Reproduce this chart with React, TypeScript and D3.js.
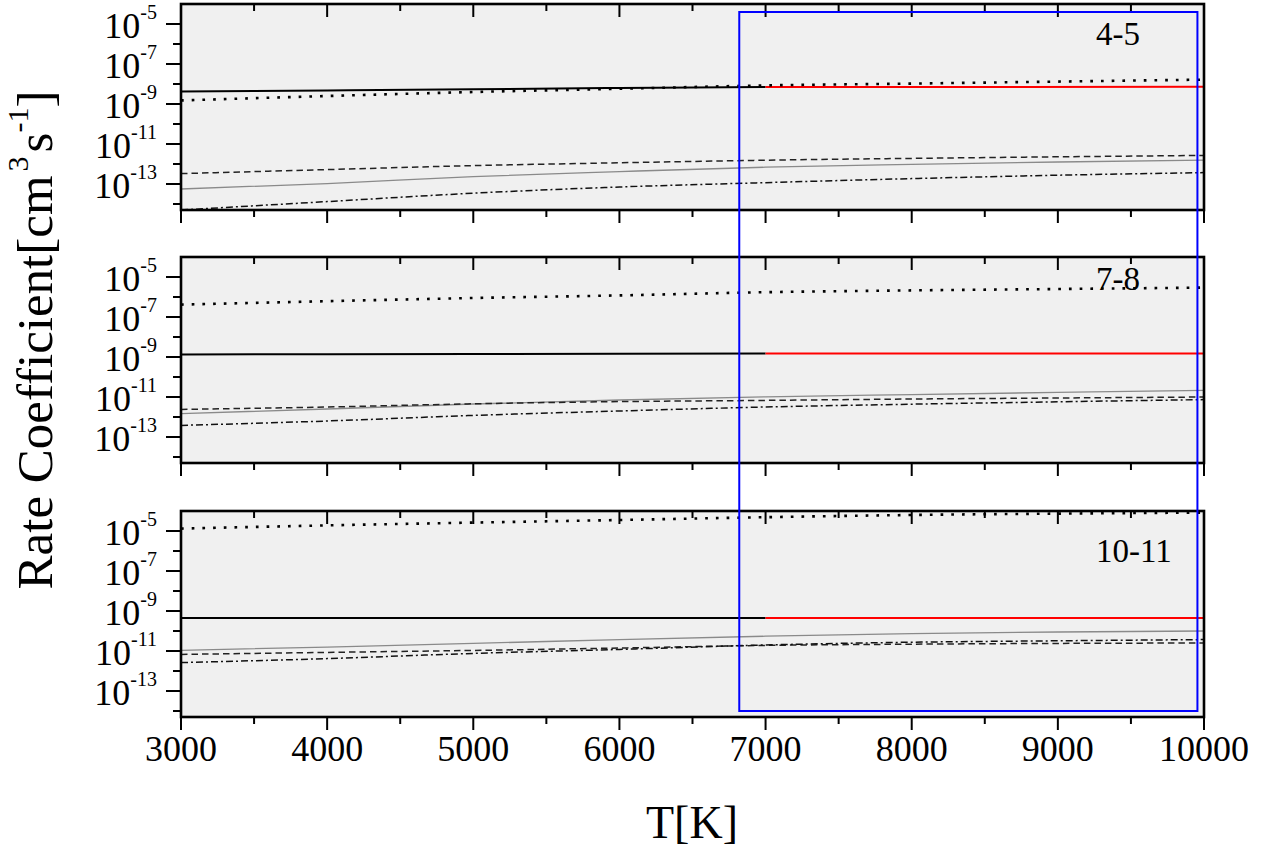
import * as d3 from "d3";

// temperatures (K) used by all curves
const temps = [3000, 4000, 5000, 6000, 7000, 8000, 9000, 10000];
const lowTemps = [3000, 4000, 5000, 6000, 7000];
const highTemps = [7000, 10000];

// panel names
const panelNames = ["4-5", "7-8", "10-11"];

// rate coefficients [cm^3 s^-1]
const dotted45 = [1.51e-9, 2.51e-9, 3.98e-9, 5.75e-9, 8.51e-9, 1.05e-8, 1.32e-8, 1.66e-8];
const solid45 = [4.22e-9, 4.79e-9, 5.43e-9, 6.31e-9, 7.08e-9];
const red45 = [7.08e-9, 7.2e-9];
const dashed45 = [3.31e-13, 5.25e-13, 8.32e-13, 1.15e-12, 1.55e-12, 1.91e-12, 2.29e-12, 2.69e-12];
const gray45 = [5.62e-14, 1.05e-13, 2.34e-13, 4.17e-13, 6.92e-13, 9.55e-13, 1.26e-12, 1.58e-12];
const dashDot45 = [5.0e-15, 1.32e-14, 3.47e-14, 7.08e-14, 1.17e-13, 1.86e-13, 2.75e-13, 3.72e-13];

const dotted78 = [4.17e-7, 6.17e-7, 8.91e-7, 1.2e-6, 1.74e-6, 2.14e-6, 2.51e-6, 2.95e-6];
const solid78 = [1.35e-9, 1.38e-9, 1.42e-9, 1.45e-9, 1.48e-9];
const red78 = [1.48e-9, 1.5e-9];
const dashed78 = [2.4e-12, 3.16e-12, 4.57e-12, 5.89e-12, 6.76e-12, 7.94e-12, 8.91e-12, 1.0e-11];
const gray78 = [1.48e-12, 2.51e-12, 4.47e-12, 7.08e-12, 1.02e-11, 1.32e-11, 1.7e-11, 2.14e-11];
const dashDot78 = [3.8e-13, 6.31e-13, 1.2e-12, 2.0e-12, 3.16e-12, 4.37e-12, 5.75e-12, 7.41e-12];

const dotted1011 = [1.32e-5, 1.91e-5, 2.63e-5, 3.55e-5, 4.9e-5, 6.31e-5, 7.41e-5, 8.32e-5];
const solid1011 = [4.47e-10, 4.47e-10, 4.47e-10, 4.47e-10, 4.47e-10];
const red1011 = [4.47e-10, 4.47e-10];
const dashed1011 = [6.76e-12, 8.51e-12, 1.07e-11, 1.41e-11, 1.91e-11, 2.19e-11, 2.4e-11, 2.51e-11];
const gray1011 = [1.07e-11, 1.58e-11, 2.4e-11, 3.72e-11, 5.5e-11, 7.41e-11, 8.91e-11, 1.0e-10];
const dashDot1011 = [2.63e-12, 4.17e-12, 7.59e-12, 1.2e-11, 2.0e-11, 2.75e-11, 3.24e-11, 3.72e-11];

// axis ticks
const xMajor = [3000, 4000, 5000, 6000, 7000, 8000, 9000, 10000];
const xMinor = [3500, 4500, 5500, 6500, 7500, 8500, 9500];
const yMajorExp = [-5, -7, -9, -11, -13];
const yMinorExp = [-6, -8, -10, -12, -14];

// highlighted temperature window (blue box)
const boxRange = [6820, 9955];

const panels = [
  { name: panelNames[0], dotted: dotted45, solid: solid45, red: red45, dashed: dashed45, gray: gray45, dashDot: dashDot45 },
  { name: panelNames[1], dotted: dotted78, solid: solid78, red: red78, dashed: dashed78, gray: gray78, dashDot: dashDot78 },
  { name: panelNames[2], dotted: dotted1011, solid: solid1011, red: red1011, dashed: dashed1011, gray: gray1011, dashDot: dashDot1011 },
];

const W = 1264;
const H = 854;
const left = 181;
const right = 1204;
const panelTops = [4, 257, 511];
const panelH = 206;
const labelDy = [41, 33, 51];
const font = "'Liberation Serif', 'Times New Roman', serif";

export default function App() {
  const x = d3.scaleLinear().domain([3000, 10000]).range([left, right]);

  return (
    <svg
      width={W}
      height={H}
      style={{ position: "absolute", left: 0, top: 0, background: "#fff" }}
      fontFamily={font}
    >
      <defs>
        {panelTops.map((t, i) => (
          <clipPath id={`clip${i}`} key={i}>
            <rect x={left} y={t} width={right - left} height={panelH} />
          </clipPath>
        ))}
      </defs>
      {panels.map((p, i) => {
        const top = panelTops[i];
        const bottom = top + panelH;
        const y = d3
          .scaleLog()
          .domain([Math.pow(10, -14.3), 1e-4])
          .range([bottom, top]);
        const line = (ts: number[]) =>
          d3
            .line<number>()
            .x((_, k) => x(ts[k]))
            .y((v) => y(v))
            .curve(d3.curveMonotoneX);
        const isLast = i === panels.length - 1;
        return (
          <g key={p.name}>
            <rect x={left} y={top} width={right - left} height={panelH} fill="#f0f0f0" />
            <g clipPath={`url(#clip${i})`} fill="none">
              <path d={line(temps)(p.gray) || ""} stroke="#8a8a8a" strokeWidth={1.3} />
              <path d={line(temps)(p.dashed) || ""} stroke="#222" strokeWidth={1.5} strokeDasharray="6.5,4" />
              <path d={line(temps)(p.dashDot) || ""} stroke="#111" strokeWidth={1.5} strokeDasharray="7,3,2,3" />
              <path d={line(lowTemps)(p.solid) || ""} stroke="#000" strokeWidth={2} />
              <path d={line(highTemps)(p.red) || ""} stroke="#ff0000" strokeWidth={2} />
              <path d={line(temps)(p.dotted) || ""} stroke="#000" strokeWidth={2.6} strokeDasharray="2.7,8" />
            </g>
            <rect x={left} y={top} width={right - left} height={panelH} fill="none" stroke="#000" strokeWidth={2.6} />
            {/* x ticks: inward on top, outward on bottom */}
            {xMajor.map((v) => (
              <g key={`xM${v}`} stroke="#000" strokeWidth={2}>
                <line x1={x(v)} x2={x(v)} y1={top} y2={top + 13} />
                <line x1={x(v)} x2={x(v)} y1={bottom} y2={bottom + 13} />
              </g>
            ))}
            {xMinor.map((v) => (
              <g key={`xm${v}`} stroke="#000" strokeWidth={2}>
                <line x1={x(v)} x2={x(v)} y1={top} y2={top + 7} />
                <line x1={x(v)} x2={x(v)} y1={bottom} y2={bottom + 7} />
              </g>
            ))}
            {/* y ticks outward */}
            {yMajorExp.map((e) => (
              <g key={`yM${e}`}>
                <line x1={left - 15} x2={left} y1={y(Math.pow(10, e))} y2={y(Math.pow(10, e))} stroke="#000" strokeWidth={2} />
                <text x={157} y={y(Math.pow(10, e)) + 14} textAnchor="end" fontSize={36} fill="#000">
                  10
                  <tspan fontSize={20} dy={-19}>
                    {String(e)}
                  </tspan>
                </text>
              </g>
            ))}
            {yMinorExp.map((e) => (
              <line
                key={`ym${e}`}
                x1={left - 8}
                x2={left}
                y1={y(Math.pow(10, e))}
                y2={y(Math.pow(10, e))}
                stroke="#000"
                strokeWidth={2}
              />
            ))}
            <text x={1096} y={top + labelDy[i]} fontSize={33} fill="#000">
              {p.name}
            </text>
            {isLast &&
              xMajor.map((v) => (
                <text key={`xl${v}`} x={x(v)} y={bottom + 44} textAnchor="middle" fontSize={36} fill="#000">
                  {v}
                </text>
              ))}
          </g>
        );
      })}
      {/* highlighted window */}
      <rect
        x={x(boxRange[0])}
        y={panelTops[0] + 8}
        width={x(boxRange[1]) - x(boxRange[0])}
        height={panelTops[2] + panelH - 6 - (panelTops[0] + 8)}
        fill="none"
        stroke="#0000ff"
        strokeWidth={2}
      />
      <text x={692} y={838} textAnchor="middle" fontSize={46} fill="#000">
        T[K]
      </text>
      <text transform="translate(52,340) rotate(-90)" textAnchor="middle" fontSize={51} fill="#000">
        Rate Coefficient[cm
        <tspan fontSize={30} dy={-24} dx={4}>3</tspan>
        <tspan dy={24} dx={4}>s</tspan>
        <tspan fontSize={30} dy={-24}>-1</tspan>
        <tspan dy={24}>]</tspan>
      </text>
    </svg>
  );
}
